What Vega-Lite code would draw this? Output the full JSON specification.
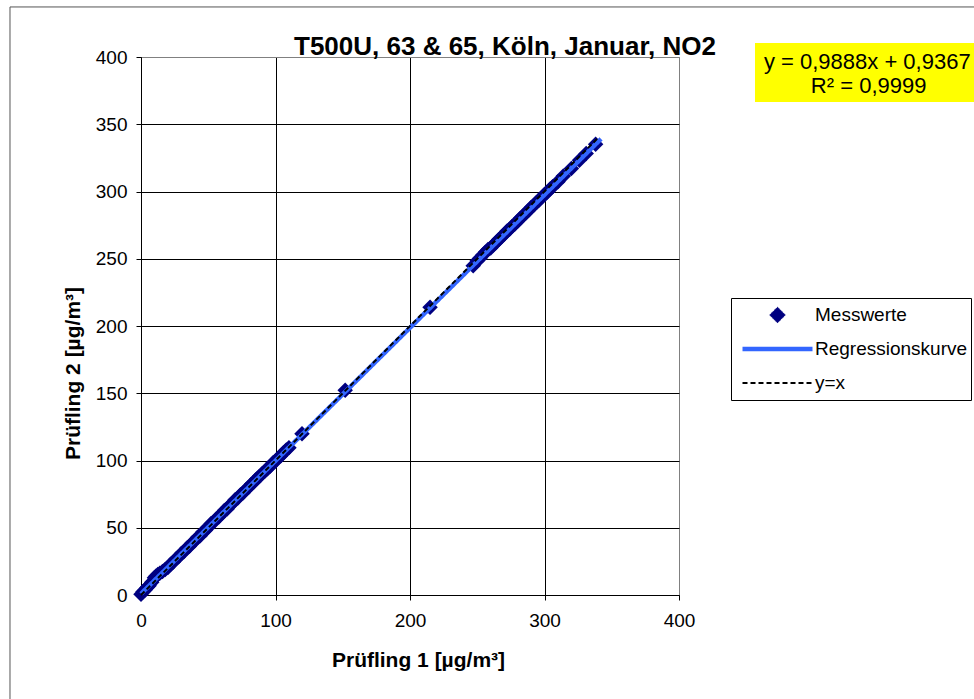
{
  "$schema": "https://vega.github.io/schema/vega-lite/v6.json",
  "width": 538,
  "height": 538,
  "autosize": {"type": "none"},
  "padding": {"left": 141, "top": 57, "right": 295, "bottom": 104},
  "background": "white",
  "title": {"text": "T500U, 63 & 65, Köln, Januar, NO2", "fontSize": 26, "fontWeight": "bold", "font": "Liberation Sans", "color": "black", "anchor": "middle", "frame": "group", "baseline": "alphabetic", "dx": 95, "offset": -75},
  "config": {
    "font": "Liberation Sans",
    "view": {"stroke": "#808080", "strokeWidth": 1},
    "axis": {"domainColor": "black", "tickColor": "black", "gridColor": "black", "gridOpacity": 1, "labelColor": "black", "titleColor": "black", "labelFontSize": 19, "titleFontSize": 21, "titleFontWeight": "bold", "tickSize": 5, "labelFont": "Liberation Sans", "titleFont": "Liberation Sans", "labelFlush": false}
  },
  "datasets": {
    "points": [
      {"x": 0, "y": 0.6, "series": "Messwerte"}, {"x": 1.5, "y": 2.5, "series": "Messwerte"}, {"x": 3, "y": 3.7, "series": "Messwerte"}, {"x": 4.5, "y": 5.6, "series": "Messwerte"}, {"x": 6, "y": 6.8, "series": "Messwerte"}, {"x": 8, "y": 9.4, "series": "Messwerte"}, {"x": 10, "y": 12.8, "series": "Messwerte"}, {"x": 11, "y": 13.9, "series": "Messwerte"}, {"x": 12.5, "y": 15.2, "series": "Messwerte"}, {"x": 14, "y": 16.1, "series": "Messwerte"}, {"x": 16, "y": 17.4, "series": "Messwerte"}, {"x": 18, "y": 18.9, "series": "Messwerte"}, {"x": 20, "y": 20.4, "series": "Messwerte"}, {"x": 22, "y": 22.9, "series": "Messwerte"}, {"x": 24, "y": 24.5, "series": "Messwerte"}, {"x": 26, "y": 26.8, "series": "Messwerte"}, {"x": 28, "y": 28.4, "series": "Messwerte"}, {"x": 30, "y": 30.9, "series": "Messwerte"}, {"x": 32, "y": 32.4, "series": "Messwerte"}, {"x": 34, "y": 34.8, "series": "Messwerte"}, {"x": 36, "y": 36.2, "series": "Messwerte"}, {"x": 38, "y": 38.6, "series": "Messwerte"}, {"x": 40, "y": 40.3, "series": "Messwerte"}, {"x": 42, "y": 42.7, "series": "Messwerte"}, {"x": 44, "y": 44.1, "series": "Messwerte"}, {"x": 46, "y": 46.8, "series": "Messwerte"}, {"x": 48, "y": 48.2, "series": "Messwerte"}, {"x": 50, "y": 50.6, "series": "Messwerte"}, {"x": 52, "y": 52.9, "series": "Messwerte"}, {"x": 54, "y": 54.2, "series": "Messwerte"}, {"x": 56, "y": 56.7, "series": "Messwerte"}, {"x": 58, "y": 58.1, "series": "Messwerte"}, {"x": 60, "y": 60.4, "series": "Messwerte"}, {"x": 62, "y": 62.8, "series": "Messwerte"}, {"x": 64, "y": 64.0, "series": "Messwerte"}, {"x": 66, "y": 66.5, "series": "Messwerte"}, {"x": 68, "y": 68.3, "series": "Messwerte"}, {"x": 70, "y": 70.9, "series": "Messwerte"}, {"x": 72, "y": 72.1, "series": "Messwerte"}, {"x": 74, "y": 74.6, "series": "Messwerte"}, {"x": 76, "y": 76.0, "series": "Messwerte"}, {"x": 78, "y": 78.3, "series": "Messwerte"}, {"x": 80, "y": 80.2, "series": "Messwerte"}, {"x": 82, "y": 82.4, "series": "Messwerte"}, {"x": 84, "y": 84.1, "series": "Messwerte"}, {"x": 86, "y": 86.3, "series": "Messwerte"}, {"x": 88, "y": 88.2, "series": "Messwerte"}, {"x": 90, "y": 90.1, "series": "Messwerte"}, {"x": 92, "y": 92.0, "series": "Messwerte"}, {"x": 94, "y": 93.8, "series": "Messwerte"}, {"x": 96, "y": 95.8, "series": "Messwerte"}, {"x": 98, "y": 98.1, "series": "Messwerte"}, {"x": 100, "y": 99.6, "series": "Messwerte"}, {"x": 102, "y": 101.9, "series": "Messwerte"}, {"x": 104, "y": 103.6, "series": "Messwerte"}, {"x": 106, "y": 105.8, "series": "Messwerte"}, {"x": 108, "y": 107.9, "series": "Messwerte"}, {"x": 110, "y": 109.5, "series": "Messwerte"}, {"x": 119.7, "y": 119.8, "series": "Messwerte"}, {"x": 151.8, "y": 152.2, "series": "Messwerte"}, {"x": 214.9, "y": 214.0, "series": "Messwerte"}, {"x": 247, "y": 244.8, "series": "Messwerte"}, {"x": 250, "y": 248.5, "series": "Messwerte"}, {"x": 252, "y": 250.3, "series": "Messwerte"}, {"x": 254, "y": 252.6, "series": "Messwerte"}, {"x": 256, "y": 254.9, "series": "Messwerte"}, {"x": 258, "y": 256.8, "series": "Messwerte"}, {"x": 260, "y": 257.9, "series": "Messwerte"}, {"x": 262, "y": 260.3, "series": "Messwerte"}, {"x": 264, "y": 262.1, "series": "Messwerte"}, {"x": 266, "y": 264.4, "series": "Messwerte"}, {"x": 268, "y": 266.2, "series": "Messwerte"}, {"x": 270, "y": 268.1, "series": "Messwerte"}, {"x": 272, "y": 270.5, "series": "Messwerte"}, {"x": 274, "y": 272.0, "series": "Messwerte"}, {"x": 276, "y": 274.1, "series": "Messwerte"}, {"x": 278, "y": 275.8, "series": "Messwerte"}, {"x": 280, "y": 277.9, "series": "Messwerte"}, {"x": 282, "y": 280.2, "series": "Messwerte"}, {"x": 284, "y": 281.9, "series": "Messwerte"}, {"x": 286, "y": 283.9, "series": "Messwerte"}, {"x": 288, "y": 285.8, "series": "Messwerte"}, {"x": 290, "y": 288.1, "series": "Messwerte"}, {"x": 292, "y": 289.8, "series": "Messwerte"}, {"x": 294, "y": 291.9, "series": "Messwerte"}, {"x": 296, "y": 293.6, "series": "Messwerte"}, {"x": 298, "y": 295.7, "series": "Messwerte"}, {"x": 300, "y": 297.8, "series": "Messwerte"}, {"x": 302, "y": 299.5, "series": "Messwerte"}, {"x": 304, "y": 301.6, "series": "Messwerte"}, {"x": 306, "y": 303.5, "series": "Messwerte"}, {"x": 310, "y": 307.2, "series": "Messwerte"}, {"x": 314, "y": 311.6, "series": "Messwerte"}, {"x": 320, "y": 317.1, "series": "Messwerte"}, {"x": 326, "y": 323.3, "series": "Messwerte"}, {"x": 331, "y": 328.2, "series": "Messwerte"}, {"x": 338, "y": 335.2, "series": "Messwerte"}
    ],
    "lines": [
      {"x": 0, "y": 0.9367, "series": "Regressionskurve"},
      {"x": 342, "y": 339.1, "series": "Regressionskurve"},
      {"x": 0, "y": 0, "series": "y=x"},
      {"x": 340, "y": 340, "series": "y=x"}
    ]
  },
  "layer": [
    {
      "data": {"name": "points"},
      "mark": {"type": "point", "filled": true, "opacity": 1},
      "encoding": {
        "x": {"field": "x", "type": "quantitative", "scale": {"domain": [0, 400], "nice": false, "zero": false},
          "axis": {"title": "Prüfling 1 [µg/m³]", "values": [0, 100, 200, 300, 400], "grid": true, "ticks": true, "labelFlush": false, "labelPadding": 11, "titlePadding": 19, "titleX": 277,
            "gridColor": {"condition": {"test": "datum.value == 400", "value": "#808080"}, "value": "black"}}},
        "y": {"field": "y", "type": "quantitative", "scale": {"domain": [0, 400], "nice": false, "zero": false},
          "axis": {"title": "Prüfling 2 [µg/m³]", "values": [0, 50, 100, 150, 200, 250, 300, 350, 400], "grid": true, "ticks": true, "labelFlush": false, "labelPadding": 9, "titlePadding": 12, "titleY": 316,
            "gridColor": {"condition": {"test": "datum.value == 400", "value": "#808080"}, "value": "black"}}},
        "color": {"field": "series", "type": "nominal",
          "scale": {"domain": ["Messwerte", "Regressionskurve", "y=x"], "range": ["#000080", "#3366FF", "#000000"]},
          "legend": {"orient": "none", "legendX": 590, "legendY": 241, "title": null, "clipHeight": 28, "rowPadding": 6, "padding": 3, "symbolOffset": 6, "labelOffset": 0, "labelFont": "Liberation Sans", "labelFontSize": 19, "labelColor": "black", "strokeColor": "#000000", "fillColor": "white", "labelLimit": 400}},
        "shape": {"field": "series", "type": "nominal",
          "scale": {"domain": ["Messwerte", "Regressionskurve", "y=x"], "range": ["diamond", "stroke", "stroke"]}},
        "size": {"field": "series", "type": "nominal",
          "scale": {"type": "ordinal", "domain": ["Messwerte", "Regressionskurve", "y=x"], "range": [240, 4900, 4900]}}
      }
    },
    {
      "data": {"name": "lines"},
      "mark": {"type": "line"},
      "encoding": {"x": {"field": "x", "type": "quantitative"}, "y": {"field": "y", "type": "quantitative"},
        "color": {"field": "series", "type": "nominal"},
        "strokeWidth": {"field": "series", "type": "nominal", "scale": {"type": "ordinal", "domain": ["Messwerte", "Regressionskurve", "y=x"], "range": [1, 4.5, 2]}},
        "strokeDash": {"field": "series", "type": "nominal", "scale": {"type": "ordinal", "domain": ["Messwerte", "Regressionskurve", "y=x"], "range": [[1, 0], [1, 0], [5, 3]]}}}
    },
    {
      "data": {"values": [{"a": 1}]},
      "mark": {"type": "rect", "fill": "#FFFF00"},
      "encoding": {"x": {"datum": 456.5, "type": "quantitative"}, "x2": {"datum": 700}, "y": {"datum": 366.5, "type": "quantitative"}, "y2": {"datum": 410.4}}
    },
    {
      "data": {"values": [{"a": 1}]},
      "mark": {"type": "text", "fontSize": 22, "font": "Liberation Sans", "color": "black", "align": "center", "baseline": "middle"},
      "encoding": {"x": {"datum": 540, "type": "quantitative"}, "y": {"datum": 396.3, "type": "quantitative"}, "text": {"value": "y = 0,9888x + 0,9367"}}
    },
    {
      "data": {"values": [{"a": 1}]},
      "mark": {"type": "text", "fontSize": 22, "font": "Liberation Sans", "color": "black", "align": "center", "baseline": "middle"},
      "encoding": {"x": {"datum": 541, "type": "quantitative"}, "y": {"datum": 378.4, "type": "quantitative"}, "text": {"value": "R² = 0,9999"}}
    },
    {
      "data": {"values": [{"a": 1}]},
      "mark": {"type": "rect", "fillOpacity": 0, "stroke": "#555555", "strokeWidth": 1},
      "encoding": {"x": {"datum": -97.4, "type": "quantitative"}, "x2": {"datum": 800}, "y": {"datum": 437.2, "type": "quantitative"}, "y2": {"datum": -200}}
    }
  ]
}
